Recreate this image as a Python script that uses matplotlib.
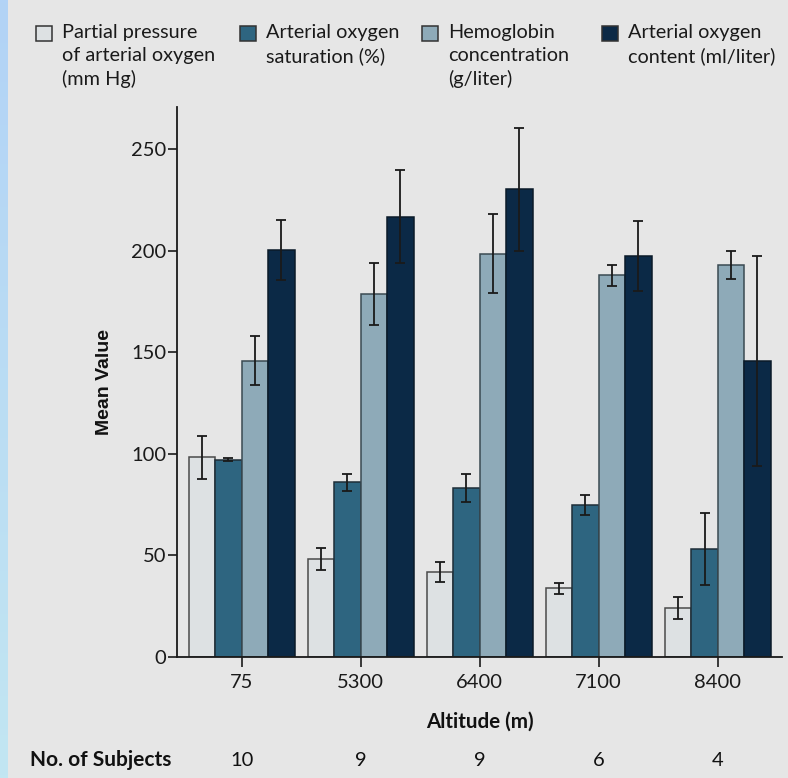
import numpy as np
import matplotlib
matplotlib.use("Agg")
import matplotlib.pyplot as plt
from matplotlib.patches import Rectangle
from matplotlib.colors import LinearSegmentedColormap
from matplotlib.transforms import blended_transform_factory

# Altitude groups and subject counts
altitudes = ["75", "5300", "6400", "7100", "8400"]
subjects = ["10", "9", "9", "6", "4"]

series_names = [
    "Partial pressure\nof arterial oxygen\n(mm Hg)",
    "Arterial oxygen\nsaturation (%)",
    "Hemoglobin\nconcentration\n(g/liter)",
    "Arterial oxygen\ncontent (ml/liter)",
]

pao2 = [98.2, 48.4, 41.8, 33.8, 24.1]
pao2_err = [10.6, 5.4, 4.9, 2.8, 5.3]

sao2 = [97.1, 85.9, 83.0, 74.8, 53.3]
sao2_err = [0.8, 4.0, 6.9, 4.9, 17.7]

hemoglobin = [145.8, 178.8, 198.5, 187.8, 192.9]
hemoglobin_err = [12.0, 15.2, 19.3, 5.1, 6.9]

cao2 = [200.4, 216.7, 230.3, 197.2, 145.8]
cao2_err = [14.8, 22.8, 30.3, 17.2, 51.7]

values = [pao2, sao2, hemoglobin, cao2]
errors = [pao2_err, sao2_err, hemoglobin_err, cao2_err]
colors = ["#dde1e3", "#2e6580", "#8eaab8", "#0b2946"]
edges = ["#4a4a4a", "#1e2e38", "#3a4a52", "#0a1a28"]

W, H = 788, 778
bg = "#e6e6e6"
fig = plt.figure(figsize=(W / 100, H / 100), dpi=100, facecolor=bg)

main_font = "Lato"

# thin blue strip down the left edge
strip = fig.add_axes([0, 0, 7 / W, 1])
cmap = LinearSegmentedColormap.from_list("strip", ["#b2d3f6", "#c2e6f2"])
strip.imshow(np.linspace(0, 1, 256).reshape(-1, 1), aspect="auto", cmap=cmap)
strip.set_axis_off()

ax = fig.add_axes([177 / W, 1 - 657 / H, (782 - 177) / W, (657 - 107) / H])
ax.set_facecolor(bg)

x = np.arange(len(altitudes))
bw = 0.2225
offsets = [-1.5 * bw, -0.5 * bw, 0.5 * bw, 1.5 * bw]
for vals, errs, c, ec, off in zip(values, errors, colors, edges, offsets):
    ax.bar(x + off, vals, width=bw, color=c, edgecolor=ec, linewidth=1.1, zorder=2)
    ax.errorbar(x + off, vals, yerr=errs, fmt="none", ecolor="#1a1a1a",
                elinewidth=1.3, capsize=3.5, capthick=1.3, zorder=3)

ax.set_xlim(-0.544, 4.54)
ax.set_ylim(0, 270.7)
ax.set_yticks([0, 50, 100, 150, 200, 250])
ax.set_xticks(x)
ax.set_xticklabels(altitudes)
for s in ["top", "right"]:
    ax.spines[s].set_visible(False)
for s in ["left", "bottom"]:
    ax.spines[s].set_linewidth(1.3)
    ax.spines[s].set_color("#1a1a1a")
ax.tick_params(axis="y", length=6.5, width=1.2, color="#1a1a1a", pad=1,
               labelsize=14.5, labelcolor="#1a1a1a")
ax.tick_params(axis="x", length=7, width=1.2, color="#1a1a1a", pad=5,
               labelsize=14.5, labelcolor="#1a1a1a")
for lab in ax.get_xticklabels() + ax.get_yticklabels():
    lab.set_fontfamily(main_font)

ax.set_ylabel("Mean Value", fontfamily="Liberation Sans", fontweight="bold",
              fontsize=14, color="#111111", labelpad=13)

# axis title and subject counts under the x axis
fig.text(480 / W, 1 - 722 / H, "Altitude (m)", ha="center", va="center",
         fontfamily=main_font, fontweight="bold", fontsize=14.8, color="#111111")
trans = blended_transform_factory(ax.transData, fig.transFigure)
fig.text(30 / W, 1 - 760 / H, "No. of Subjects", ha="left", va="center",
         fontfamily=main_font, fontweight="bold", fontsize=15, color="#111111")
for xi, n in zip(x, subjects):
    ax.text(xi, 1 - 760 / H, n, transform=trans, ha="center", va="center",
            fontfamily=main_font, fontsize=14.5, color="#111111", clip_on=False)

# legend across the top
legend_x = [36, 240, 422, 602]
for lx, name, c, ec in zip(legend_x, series_names, colors, edges):
    fig.add_artist(Rectangle((lx / W, 1 - 41 / H), 16 / W, 15 / H,
                             transform=fig.transFigure, facecolor=c,
                             edgecolor="#333333", linewidth=1.1))
    fig.text((lx + 26) / W, 1 - 24 / H, name, ha="left", va="top",
             fontfamily=main_font, fontsize=14.3, color="#1a1a1a",
             linespacing=1.4)

fig.savefig("out.png", dpi=100, facecolor=bg)
